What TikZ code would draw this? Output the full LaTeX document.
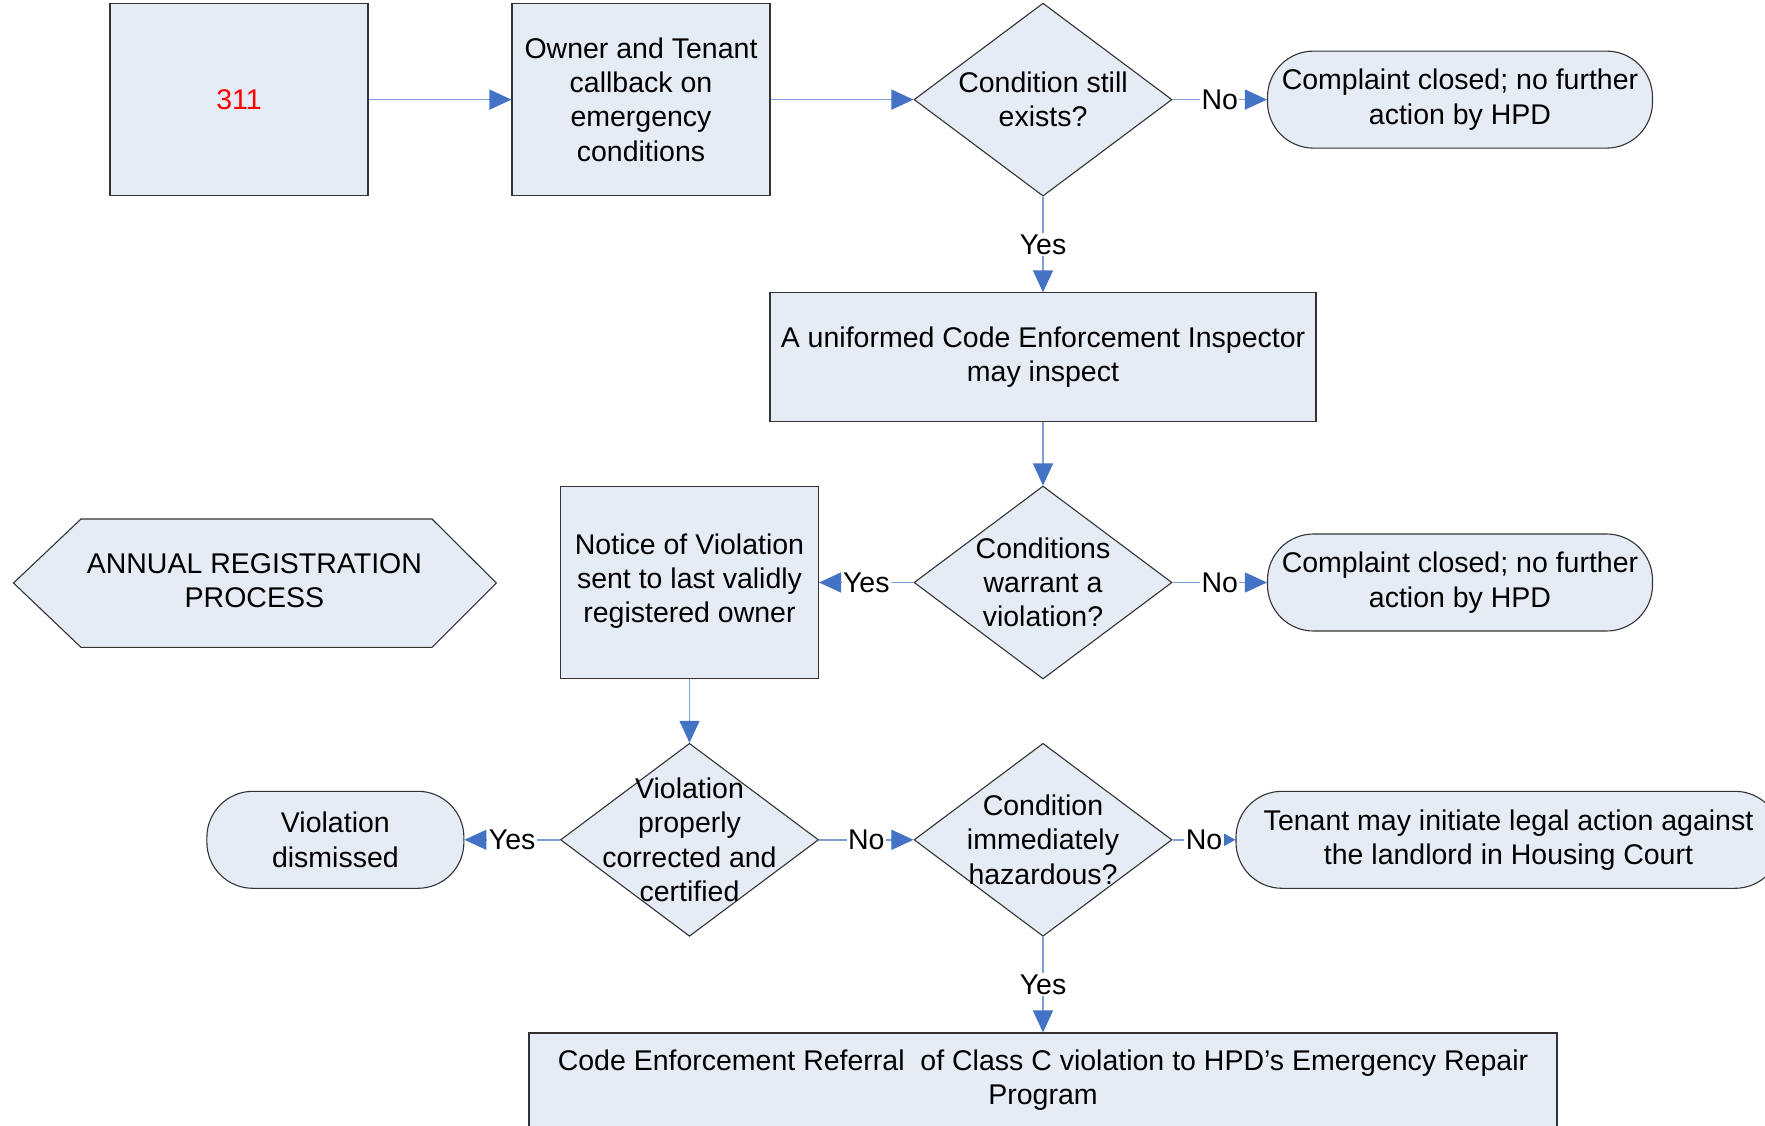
\documentclass[tikz,border=0pt]{standalone}
\usepackage{fontspec}
\setmainfont{Liberation Sans}
\usetikzlibrary{shapes.geometric,arrows.meta}
\definecolor{boxfill}{RGB}{230,236,246}
\definecolor{linecol}{RGB}{125,160,215}
\definecolor{tipcol}{RGB}{68,114,196}
\begin{document}
\begin{tikzpicture}[x=1pt,y=-1pt,
  every node/.style={font=\fontsize{28.5}{34.3}\selectfont},
  procbox/.style={draw=black!80, fill=boxfill, line width=1.1pt, inner sep=0pt, align=center},
  termbox/.style={procbox, rounded corners=46pt},
  dia/.style={draw=black!80, fill=boxfill, line width=1.1pt, shape=diamond, inner sep=0pt, minimum width=258pt, minimum height=193pt},
  conn/.style={draw=linecol, line width=1.4pt, -{Triangle[length=22pt,width=20pt,color=tipcol]}},
  connsmall/.style={draw=linecol, line width=1.4pt, -{Triangle[length=13pt,width=14pt,color=tipcol]}},
  lab/.style={fill=white, inner sep=1.5pt}
]
\useasboundingbox[fill=white] (0,0) rectangle (1765,1125);

% row 1
\node[procbox, minimum width=258pt, minimum height=192pt, text=red] (n311) at (239,99.6) {311};
\node[procbox, minimum width=258pt, minimum height=192pt] (owner) at (641,99.6) {Owner and Tenant\\callback on\\emergency\\conditions};
\node[dia, label={[align=center]center:{Condition still\\exists?}}] (d1) at (1043,99.6) {};
\node[termbox, minimum width=385pt, minimum height=97pt] (t1) at (1460,99.6) {Complaint closed; no further\\action by HPD};

% inspector
\node[procbox, minimum width=546pt, minimum height=129pt] (insp) at (1043,357.4) {A uniformed Code Enforcement Inspector\\may inspect};

% row 3
\draw[draw=black!80, fill=boxfill, line width=1.1pt] (13.5,583) -- (81,519) -- (432,519) -- (496.4,583) -- (432,647.3) -- (81,647.3) -- cycle;
\node[align=center] (hex) at (254.4,581) {ANNUAL REGISTRATION\\PROCESS};
\node[procbox, minimum width=258pt, minimum height=192pt] (notice) at (689.5,582.5) {};
\node[align=center] (noticet) at (689.5,581) {Notice of Violation\\sent to last validly\\registered owner};
\node[dia, label={[align=center]center:{Conditions\\warrant a\\violation?}}] (d2) at (1043,582.5) {};
\node[termbox, minimum width=385pt, minimum height=97pt] (t2) at (1460,582.5) {Complaint closed; no further\\action by HPD};

% row 4
\node[termbox, minimum width=257pt, minimum height=97pt] (t3) at (335.4,839.8) {Violation\\dismissed};
\node[dia, label={[align=center]center:{Violation\\properly\\corrected and\\certified}}] (d3) at (689.5,839.8) {};
\node[dia, label={[align=center]center:{Condition\\immediately\\hazardous?}}] (d4) at (1043,839.8) {};
\node[termbox, minimum width=545pt, minimum height=97pt] (t4) at (1508.5,839.8) {Tenant may initiate legal action against\\the landlord in Housing Court};

% bottom
\node[procbox, minimum width=1028pt, minimum height=94pt] (refer) at (1043,1080) {Code Enforcement Referral\ \ of Class C violation to HPD’s Emergency Repair\\Program};

% connectors
\draw[conn] (n311.east) -- (owner.west);
\draw[conn] (owner.east) -- (d1.west);
\draw[conn] (d1.east) -- node[lab]{No} (t1.west);
\draw[conn] (d1.south) -- node[lab]{Yes} (insp.north);
\draw[conn] (insp.south) -- (d2.north);
\draw[conn] (d2.west) -- node[lab]{Yes} (notice.east);
\draw[conn] (d2.east) -- node[lab]{No} (t2.west);
\draw[conn] (notice.south) -- (d3.north);
\draw[conn] (d3.west) -- node[lab]{Yes} (t3.east);
\draw[conn] (d3.east) -- node[lab]{No} (d4.west);
\draw[connsmall] (d4.east) -- node[lab]{No} (t4.west);
\draw[conn] (d4.south) -- node[lab]{Yes} (refer.north);
\end{tikzpicture}
\end{document}
